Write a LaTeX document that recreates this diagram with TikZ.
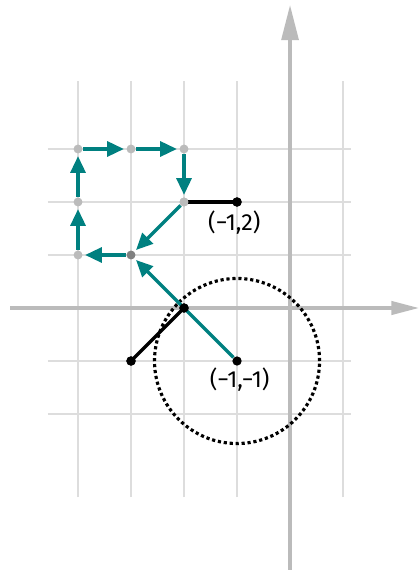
\documentclass[tikz,border=0pt]{standalone}
\usepackage{fontspec}
\setmainfont{Fira Sans}
\usetikzlibrary{arrows.meta}
\definecolor{tealc}{HTML}{008080}
\definecolor{gridc}{HTML}{DDDDDD}
\definecolor{axisc}{HTML}{BBBBBB}
\definecolor{dotg}{HTML}{BBBBBB}
\definecolor{dotd}{HTML}{808080}
\tikzset{
  gridline/.style={draw=gridc, line width=0.8pt},
  axisline/.style={draw=axisc, line width=2.1pt},
  tealarrow/.style={draw=tealc, line width=1.8pt, -{Triangle[length=9pt,width=8pt]}, shorten >=1.2pt},
  blackline/.style={draw=black, line width=1.8pt},
  graydot/.style={circle, fill=dotg, inner sep=0pt, minimum size=4.8pt},
  darkdot/.style={circle, fill=dotd, inner sep=0pt, minimum size=4.8pt},
  blackdot/.style={circle, fill=black, inner sep=0pt, minimum size=5pt},
  lbl/.style={font=\fontsize{12.5}{15}\selectfont, inner sep=0pt}
}
\begin{document}
\begin{tikzpicture}
\useasboundingbox (-5.472,-4.943) rectangle (2.415,5.811);
% grid
\foreach \x in {-4,...,1} \draw[gridline] (\x,-3.57) -- (\x,4.28);
\foreach \y in {-2,...,3} \draw[gridline] (-4.57,\y) -- (1.15,\y);
% axes
\coordinate (xs) at (-5.283,0);
\coordinate (xe) at (2.44,0);
\coordinate (ys) at (0,-5.0);
\coordinate (ye) at (0,5.72);
\draw[axisline, -{Triangle[length=15pt,width=7pt]}] (xs) -- (xe);
\draw[axisline, -{Triangle[length=19pt,width=9pt]}] (ys) -- (ye);
% dotted circle
\draw[line width=1.7pt, dash pattern=on 1.7pt off 1.5pt] (-1,-1) circle (1.557);
% nodes
\node[graydot] (p1) at (-2,2) {};
\node[darkdot] (p2) at (-3,1) {};
\node[graydot] (p3) at (-4,1) {};
\node[graydot] (p4) at (-4,2) {};
\node[graydot] (p5) at (-4,3) {};
\node[graydot] (p6) at (-3,3) {};
\node[graydot] (p7) at (-2,3) {};
\node[blackdot] (q1) at (-1,2) {};
\node[blackdot] (a) at (-1,-1) {};
\node[blackdot] (b) at (-3,-1) {};
\node[blackdot] (c) at (-2,0) {};
% teal path
\draw[tealarrow] (a) -- (p2);
\draw[tealarrow] (p1) -- (p2);
\draw[tealarrow] (p2) -- (p3);
\draw[tealarrow] (p3) -- (p4);
\draw[tealarrow] (p4) -- (p5);
\draw[tealarrow] (p5) -- (p6);
\draw[tealarrow] (p6) -- (p7);
\draw[tealarrow] (p7) -- (p1);
% black lines
\draw[blackline] (p1.center) -- (q1.center);
\draw[blackline] (b.center) -- (c.center);
\node[blackdot] at (-1,2) {};
\node[blackdot] at (-2,0) {};
\node[blackdot] at (-3,-1) {};
\node[graydot] at (-2,2) {};
% labels
\node[lbl] (l1) at (-1.05,1.62) {(−1,2)};
\node[lbl] (l2) at (-0.95,-1.36) {(−1,−1)};
\end{tikzpicture}
\end{document}
